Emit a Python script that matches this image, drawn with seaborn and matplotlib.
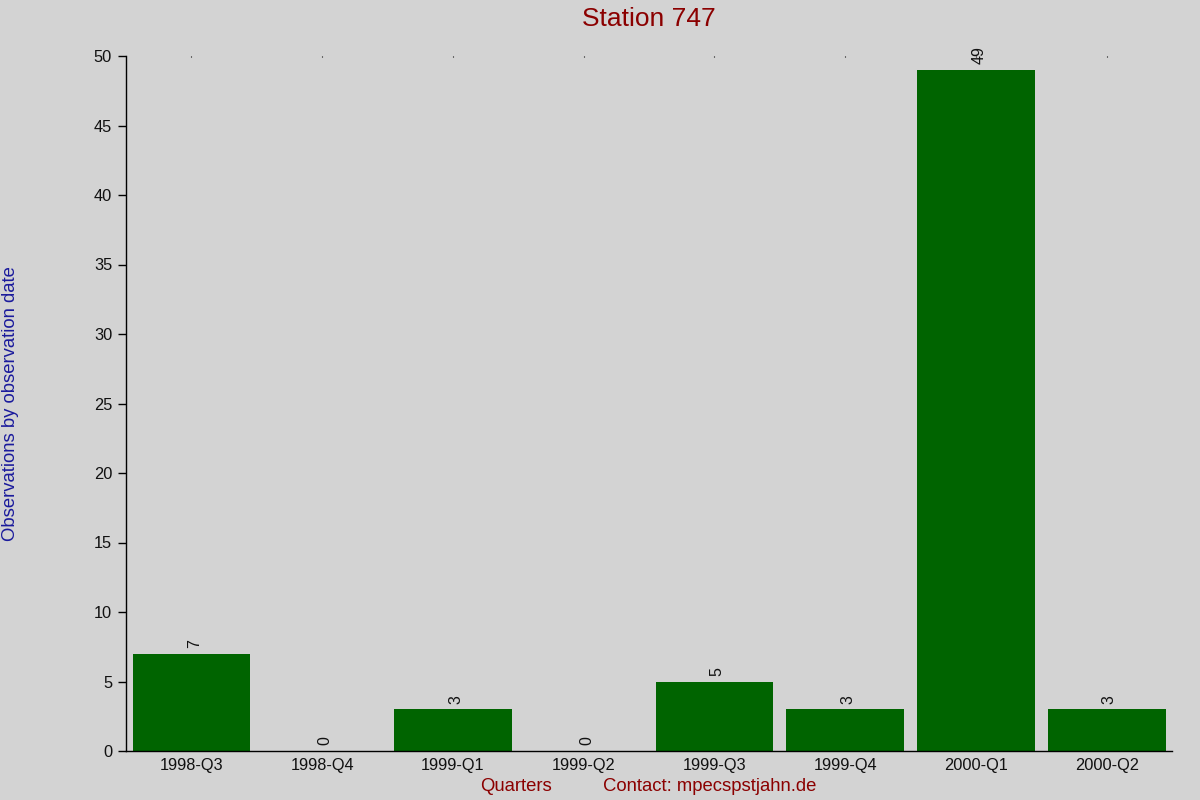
import pandas as pd
import matplotlib
matplotlib.use('Agg')
import matplotlib.pyplot as plt
import seaborn as sns

# Data
quarters = ['1998-Q3', '1998-Q4', '1999-Q1', '1999-Q2',
            '1999-Q3', '1999-Q4', '2000-Q1', '2000-Q2']
counts = [7, 0, 3, 0, 5, 3, 49, 3]
y_ticks = [0, 5, 10, 15, 20, 25, 30, 35, 40, 45, 50]

df = pd.DataFrame({'Quarter': quarters, 'Count': counts})

sns.set_style('white')
plt.rcParams['font.family'] = ['Liberation Sans', 'DejaVu Sans']

fig = plt.figure(figsize=(12, 8), dpi=100, facecolor='#d3d3d3')
ax = fig.add_axes([0.105, 0.06125, 0.8717, 0.86875])
ax.set_facecolor('#d3d3d3')

sns.barplot(x='Quarter', y='Count', data=df, color='#006400',
            saturation=1, width=0.9, edgecolor='none', linewidth=0, ax=ax)

# value labels
for i, v in enumerate(counts):
    ax.annotate(str(v), (i, v), xytext=(2, 4), textcoords='offset points',
                ha='center', va='bottom', rotation=90, fontsize=11.5,
                color='#111111')

ax.set_xlim(-0.5, len(quarters) - 0.5)
ax.set_ylim(0, 50)
ax.set_yticks(y_ticks)
ax.set_xlabel('')
ax.set_ylabel('')

sns.despine(ax=ax, top=True, right=True)
for s in ['left', 'bottom']:
    ax.spines[s].set_color('black')
    ax.spines[s].set_linewidth(1)

ax.tick_params(axis='y', direction='out', length=6, width=1, color='black',
               labelsize=11.75, labelcolor='#111111', left=True, pad=4)
ax.tick_params(axis='x', length=0, labelsize=11.75, labelcolor='#111111', pad=5)
ax.tick_params(axis='x', which='major', top=True, direction='in', length=1,
               width=0.8, color='black')

fig.text(0.541, 0.976, 'Station 747', ha='center', va='center',
         fontsize=19, color='#8b0000')
fig.text(0.009, 0.496, 'Observations by observation date', rotation=90,
         ha='center', va='center', fontsize=13.3, color='#1a1a9c')
fig.text(0.43, 0.0165, 'Quarters', ha='center', va='center',
         fontsize=13.3, color='#8b0000')
fig.text(0.591, 0.0165, 'Contact: mpecspstjahn.de', ha='center', va='center',
         fontsize=13.3, color='#8b0000')

plt.savefig('out.png', dpi=100, facecolor=fig.get_facecolor())
